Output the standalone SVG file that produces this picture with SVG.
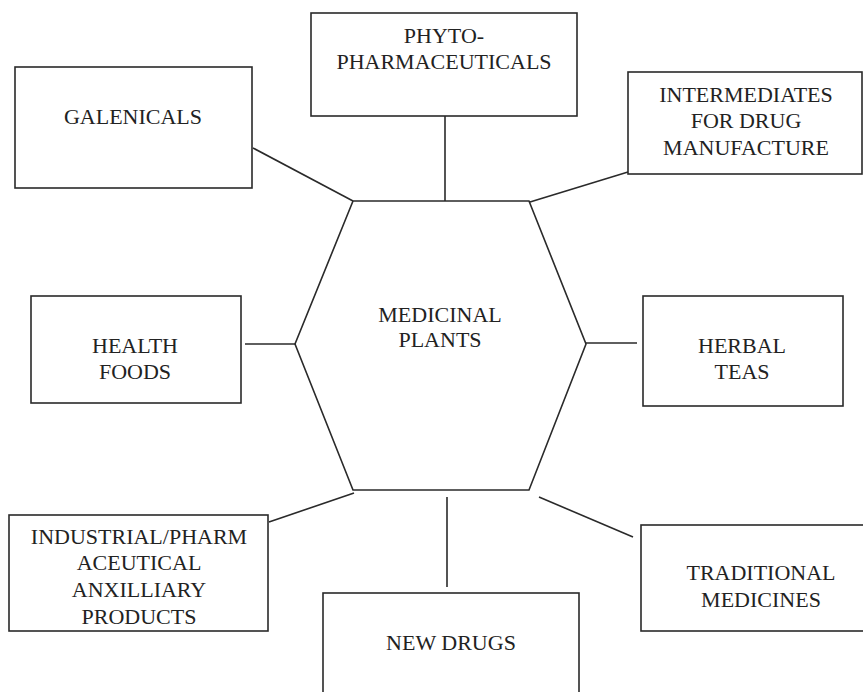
<svg xmlns="http://www.w3.org/2000/svg" width="863" height="692" viewBox="0 0 863 692">
  <style>
    .box { fill: #fff; stroke: #2a2a2a; stroke-width: 1.6; }
    .link { stroke: #2a2a2a; stroke-width: 1.6; fill: none; }
    .lbl { font-family: "Liberation Serif", "Times New Roman", serif; font-size: 22px; fill: #222; text-anchor: middle; }
  </style>
  <rect width="863" height="692" fill="#fff"/>

  <g id="connectors">
    <line class="link" x1="253" y1="148" x2="353" y2="201"/>
    <line class="link" x1="445" y1="116" x2="445" y2="201"/>
    <line class="link" x1="628" y1="172" x2="530" y2="202"/>
    <line class="link" x1="245" y1="344" x2="295" y2="344"/>
    <line class="link" x1="586" y1="343" x2="637" y2="343"/>
    <line class="link" x1="269" y1="522" x2="354" y2="493"/>
    <line class="link" x1="447" y1="497" x2="447" y2="587"/>
    <line class="link" x1="539" y1="497" x2="633" y2="537"/>
  </g>

  <g id="medicinal-plants">
    <polygon class="box" points="353,201 529,201 586,344 529,490 353,490 295,344"/>
    <text class="lbl" x="440" y="322">MEDICINAL</text>
    <text class="lbl" x="440" y="347">PLANTS</text>
  </g>

  <g id="galenicals">
    <rect class="box" x="15" y="67" width="237" height="121"/>
    <text class="lbl" x="133" y="124">GALENICALS</text>
  </g>

  <g id="phytopharmaceuticals">
    <rect class="box" x="311" y="13" width="266" height="103"/>
    <text class="lbl" x="444" y="43">PHYTO-</text>
    <text class="lbl" x="444" y="69">PHARMACEUTICALS</text>
  </g>

  <g id="intermediates">
    <rect class="box" x="628" y="72" width="234" height="102"/>
    <text class="lbl" x="746" y="102">INTERMEDIATES</text>
    <text class="lbl" x="746" y="128">FOR DRUG</text>
    <text class="lbl" x="746" y="155">MANUFACTURE</text>
  </g>

  <g id="health-foods">
    <rect class="box" x="31" y="296" width="210" height="107"/>
    <text class="lbl" x="135" y="353">HEALTH</text>
    <text class="lbl" x="135" y="379">FOODS</text>
  </g>

  <g id="herbal-teas">
    <rect class="box" x="643" y="296" width="200" height="110"/>
    <text class="lbl" x="742" y="353">HERBAL</text>
    <text class="lbl" x="742" y="379">TEAS</text>
  </g>

  <g id="industrial-products">
    <rect class="box" x="9" y="515" width="259" height="116"/>
    <text class="lbl" x="139" y="544">INDUSTRIAL/PHARM</text>
    <text class="lbl" x="139" y="570">ACEUTICAL</text>
    <text class="lbl" x="139" y="597">ANXILLIARY</text>
    <text class="lbl" x="139" y="624">PRODUCTS</text>
  </g>

  <g id="new-drugs">
    <rect class="box" x="323" y="593" width="256" height="110"/>
    <text class="lbl" x="451" y="650">NEW DRUGS</text>
  </g>

  <g id="traditional-medicines">
    <rect class="box" x="641" y="525" width="240" height="106"/>
    <text class="lbl" x="761" y="580">TRADITIONAL</text>
    <text class="lbl" x="761" y="607">MEDICINES</text>
  </g>
</svg>
